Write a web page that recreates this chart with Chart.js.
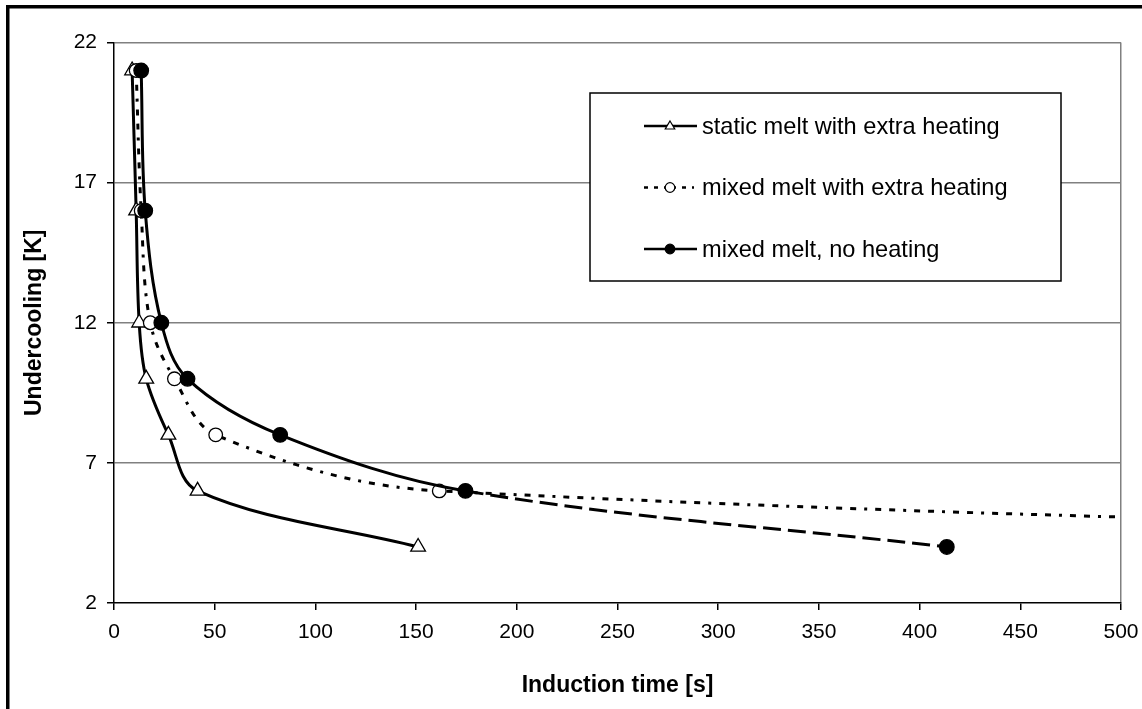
<!DOCTYPE html>
<html>
<head>
<meta charset="utf-8">
<script src="https://cdn.jsdelivr.net/npm/chart.js@4.4.1/dist/chart.umd.min.js"></script>
<style>
  html, body { margin: 0; padding: 0; background: #fff; }
  canvas { display: block; }
</style>
</head>
<body>
<canvas id="inductionChart" width="1142" height="709"></canvas>
<script>
// undercooling levels [K], shared by all three runs
const undercooling = [21, 16, 12, 10, 8, 6, 4];

// induction times [s]
const timeStatic = [9, 11, 12.5, 16, 27, 41.5, 151];
const timeMixedHeated = [11, 13.5, 18, 30, 50.5, 161.5, 1150];
const timeMixedPlain = [13.5, 15.5, 23.5, 36.5, 82.5, 174.5, 413.5];

const seriesNames = [
  'static melt with extra heating',
  'mixed melt with extra heating',
  'mixed melt, no heating'
];

const xTickStep = 50;
const yTickStep = 5;

const FONT = '"Liberation Sans", Arial, sans-serif';
const dotDash = [6, 8, 6, 8, 3, 8];
const SMOOTH = 0.35;

function toPoints(times) {
  return times.map((t, i) => ({ x: t, y: undercooling[i] }));
}

// white page with the heavy frame on the top and left edge
const pageFrame = {
  id: 'pageFrame',
  beforeDraw(chart) {
    const ctx = chart.ctx;
    ctx.save();
    ctx.fillStyle = '#fff';
    ctx.fillRect(0, 0, chart.width, chart.height);
    ctx.restore();
  },
  afterDraw(chart) {
    const ctx = chart.ctx;
    ctx.save();
    ctx.strokeStyle = '#000';
    ctx.lineWidth = 3.5;
    ctx.beginPath();
    ctx.moveTo(6, 6.75);
    ctx.lineTo(chart.width, 6.75);
    ctx.moveTo(7.75, 5);
    ctx.lineTo(7.75, chart.height);
    ctx.stroke();
    ctx.restore();
  }
};

// boxed legend inside the plot, upper right
const boxLegend = {
  id: 'boxLegend',
  afterDraw(chart) {
    const ctx = chart.ctx;
    const box = { x: 590, y: 93, w: 471, h: 188 };
    const rows = [126, 187.5, 249];
    ctx.save();
    ctx.fillStyle = '#fff';
    ctx.fillRect(box.x, box.y, box.w, box.h);
    ctx.strokeStyle = '#000';
    ctx.lineWidth = 1.5;
    ctx.strokeRect(box.x, box.y, box.w, box.h);

    chart.data.datasets.forEach((ds, i) => {
      const y = rows[i];
      ctx.strokeStyle = '#000';
      ctx.lineWidth = 2.5;
      ctx.setLineDash(ds.legendDash || []);
      ctx.beginPath();
      ctx.moveTo(644, y);
      ctx.lineTo(697, y);
      ctx.stroke();
      ctx.setLineDash([]);

      ctx.lineWidth = 1.2;
      ctx.fillStyle = ds.pointBackgroundColor;
      ctx.beginPath();
      if (ds.pointStyle === 'triangle') {
        const r = 5;
        ctx.moveTo(670, y - r);
        ctx.lineTo(670 + r * 0.95, y + r * 0.6);
        ctx.lineTo(670 - r * 0.95, y + r * 0.6);
        ctx.closePath();
      } else {
        ctx.arc(670, y, 4.8, 0, Math.PI * 2);
      }
      ctx.fill();
      ctx.stroke();

      ctx.fillStyle = '#000';
      ctx.font = '23.6px ' + FONT;
      ctx.textBaseline = 'middle';
      ctx.fillText(ds.label, 702, y + 1);
    });
    ctx.restore();
  }
};

const ctx = document.getElementById('inductionChart').getContext('2d');
new Chart(ctx, {
  type: 'line',
  data: {
    datasets: [
      {
        label: seriesNames[0],
        data: toPoints(timeStatic),
        borderColor: '#000',
        borderWidth: 3,
        tension: SMOOTH,
        pointStyle: 'triangle',
        pointRadius: 8.5,
        pointBorderWidth: 1.3,
        pointBorderColor: '#000',
        pointBackgroundColor: '#fff',
        order: 2
      },
      {
        label: seriesNames[1],
        data: toPoints(timeMixedHeated),
        borderColor: '#000',
        borderWidth: 3,
        borderDash: dotDash,
        legendDash: [4, 6, 4, 6, 2, 6],
        tension: SMOOTH,
        pointStyle: 'circle',
        pointRadius: 6.8,
        pointBorderWidth: 1.3,
        pointBorderColor: '#000',
        pointBackgroundColor: '#fff',
        order: 1
      },
      {
        label: seriesNames[2],
        data: toPoints(timeMixedPlain),
        borderColor: '#000',
        borderWidth: 3,
        tension: SMOOTH,
        // last stretch is drawn dashed
        segment: {
          borderDash: c => (c.p0DataIndex === undercooling.length - 2 ? [18, 7] : undefined)
        },
        pointStyle: 'circle',
        pointRadius: 7.3,
        pointBorderWidth: 1.3,
        pointBorderColor: '#000',
        pointBackgroundColor: '#000',
        order: 0
      }
    ]
  },
  options: {
    responsive: false,
    animation: false,
    devicePixelRatio: 1,
    layout: { padding: { left: 0, top: 42.5, right: 21, bottom: 0 } },
    plugins: {
      legend: { display: false },
      tooltip: { enabled: false }
    },
    scales: {
      x: {
        type: 'linear',
        min: 0,
        max: 500,
        afterFit: s => {
          s.height = 106;
          s.paddingLeft = 0;
          s.paddingRight = 0;
        },
        ticks: {
          stepSize: xTickStep,
          color: '#000',
          padding: 10,
          maxRotation: 0,
          font: { family: FONT, size: 21 }
        },
        grid: {
          color: c => (c.tick && c.tick.value === 500 ? '#808080' : 'rgba(0,0,0,0)'),
          tickColor: '#000',
          tickLength: 7,
          lineWidth: 1.5
        },
        border: { color: '#000', width: 1.5 },
        title: {
          display: true,
          text: 'Induction time [s]',
          color: '#000',
          padding: { top: 0, bottom: 10 },
          font: { family: FONT, size: 23, weight: 'bold' }
        }
      },
      y: {
        type: 'linear',
        min: 2,
        max: 22,
        afterFit: s => {
          s.width = 114;
          s.paddingTop = 0;
          s.paddingBottom = 0;
        },
        ticks: {
          stepSize: yTickStep,
          color: '#000',
          padding: 10,
          font: { family: FONT, size: 21 }
        },
        grid: {
          color: c => (c.tick && c.tick.value === 2 ? 'rgba(0,0,0,0)' : '#808080'),
          tickColor: '#000',
          tickLength: 7,
          lineWidth: 1.5
        },
        border: { color: '#000', width: 1.5 },
        title: {
          display: true,
          text: 'Undercooling [K]',
          color: '#000',
          padding: { top: 21, bottom: 0 },
          font: { family: FONT, size: 23, weight: 'bold' }
        }
      }
    }
  },
  plugins: [pageFrame, boxLegend]
});
</script>
</body>
</html>
